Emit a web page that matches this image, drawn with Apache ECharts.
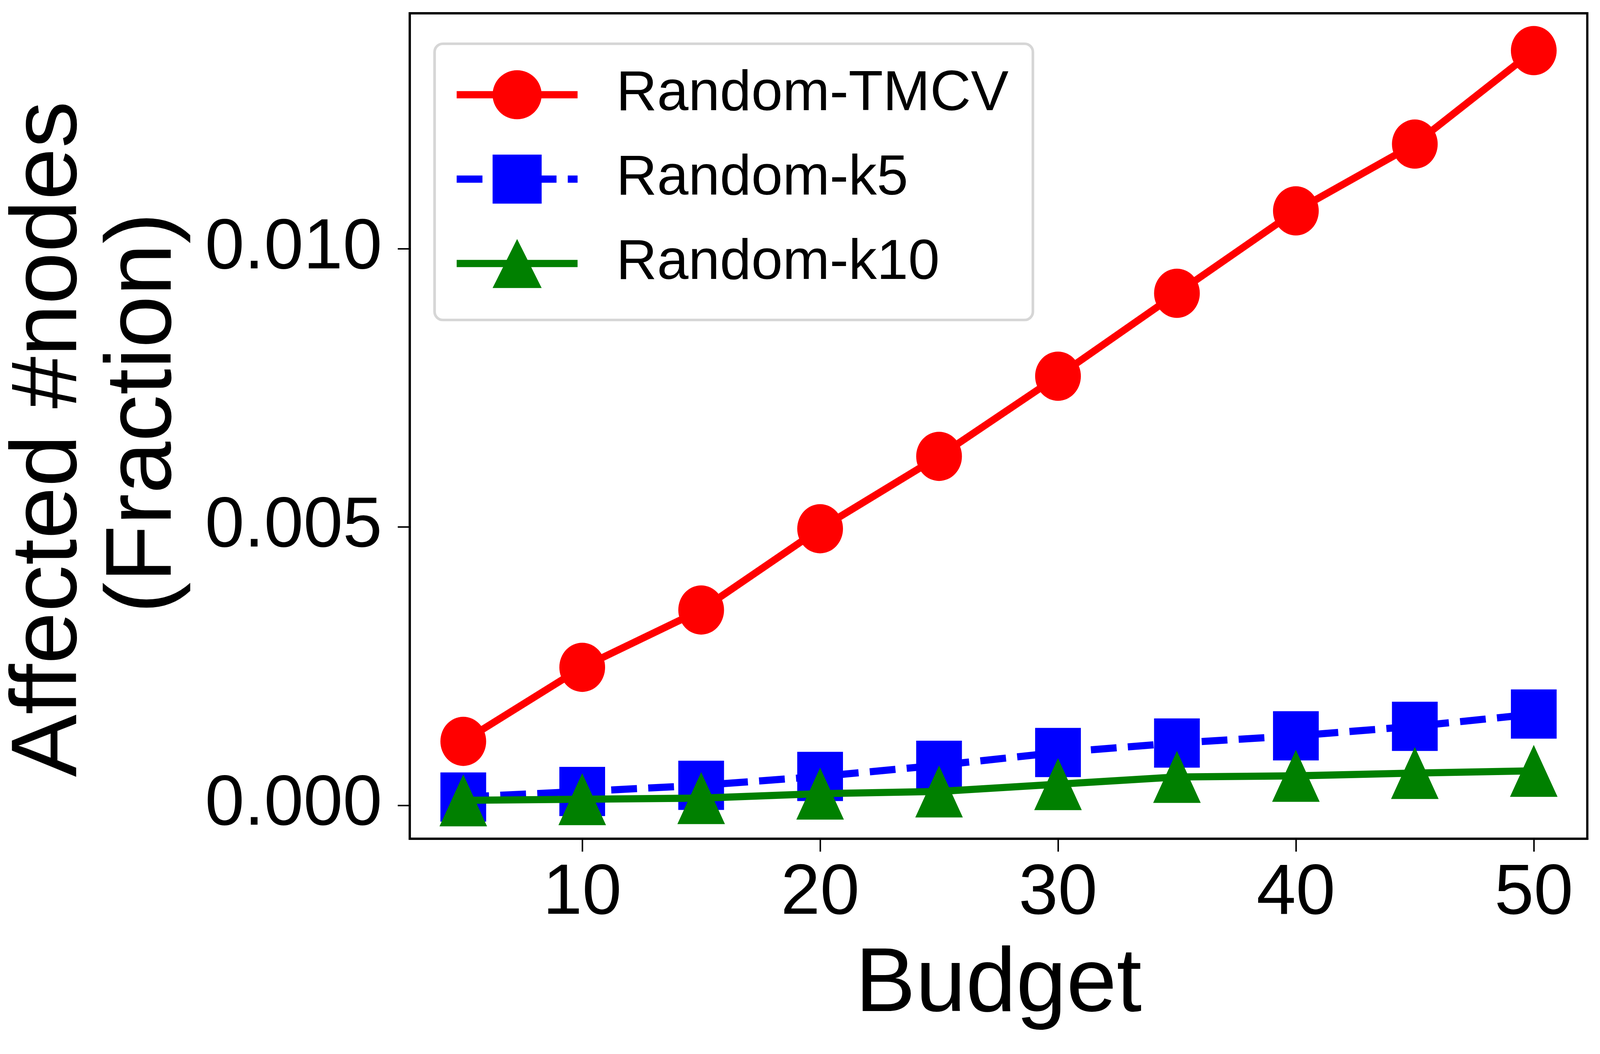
<!DOCTYPE html>
<html>
<head>
<meta charset="utf-8">
<script src="https://cdn.jsdelivr.net/npm/echarts@6/dist/echarts.min.js"></script>
<style>
  html, body { margin: 0; padding: 0; background: #fff; overflow: hidden; }
  #chart { width: 100vw; height: 100vh; }
</style>
</head>
<body>
<div id="chart"></div>
<script>
var budgets = [5, 10, 15, 20, 25, 30, 35, 40, 45, 50];
var tmcv = [0.00115, 0.00248, 0.00351, 0.00497, 0.00627, 0.00771, 0.00920, 0.01068, 0.01188, 0.01356];
var k5 = [0.00015, 0.00025, 0.00036, 0.00052, 0.00072, 0.00095, 0.00112, 0.00125, 0.00142, 0.00164];
var k10 = [0.00009, 0.00011, 0.00013, 0.00021, 0.00025, 0.00038, 0.00051, 0.00053, 0.00058, 0.00062];

var xTicks = [10, 20, 30, 40, 50];
var yTicks = [0, 0.005, 0.010];

var FONT = '"Liberation Sans", Arial, Helvetica, sans-serif';

function pairs(ys) {
  return budgets.map(function (b, i) { return [b, ys[i]]; });
}

var myChart = echarts.init(document.getElementById('chart'));

// sizes were measured on the 4407x2698 reference; scale them to the real window
var sx = myChart.getWidth() / 4407;
var sy = myChart.getHeight() / 2698;
var sf = Math.sqrt(sx * sy);
function X(v) { return v * sx; }
function Y(v) { return v * sy; }
function F(v) { return v * sf; }

var option = {
  animation: false,
  backgroundColor: '#fff',
  textStyle: { fontFamily: FONT },
  grid: {
    left: X(1116), right: X(35), top: Y(34), bottom: Y(551),
    show: true, borderColor: '#000', borderWidth: F(6), backgroundColor: 'transparent'
  },
  legend: {
    orient: 'vertical',
    left: X(1197), top: Y(112),
    padding: [Y(58), X(67), Y(72), X(51)],
    itemWidth: X(333), itemHeight: Y(157),
    itemGap: Y(71),
    backgroundColor: '#fff',
    borderColor: '#d6d6d6', borderWidth: F(7), borderRadius: F(22),
    lineStyle: { width: F(19) },
    textStyle: { fontSize: F(150), color: '#000', fontFamily: FONT, padding: [0, 0, 0, X(101)] },
    data: ['Random-TMCV', 'Random-k5', 'Random-k10']
  },
  xAxis: {
    type: 'value',
    min: 2.75, max: 52.25,
    name: 'Budget',
    nameLocation: 'middle',
    nameGap: Y(262),
    nameTextStyle: { fontSize: F(240), color: '#000', fontFamily: FONT },
    axisLine: { show: true, onZero: false, lineStyle: { color: '#000', width: F(6) } },
    axisTick: { show: true, length: Y(33), lineStyle: { color: '#000', width: F(4) }, customValues: xTicks },
    axisLabel: { fontSize: F(188), color: '#000', margin: Y(52), fontFamily: FONT, customValues: xTicks },
    splitLine: { show: false }
  },
  yAxis: {
    type: 'value',
    min: -0.0006, max: 0.01423,
    name: 'Affected #nodes \n (Fraction)',
    nameLocation: 'middle',
    nameGap: X(600),
    nameTextStyle: { fontSize: Y(240), lineHeight: X(260), color: '#000', fontFamily: FONT },
    axisLine: { show: true, onZero: false, lineStyle: { color: '#000', width: F(6) } },
    axisTick: { show: true, length: X(33), lineStyle: { color: '#000', width: F(4) }, customValues: yTicks },
    axisLabel: {
      fontSize: F(188), color: '#000', margin: X(76), fontFamily: FONT, customValues: yTicks,
      formatter: function (v) { return v.toFixed(3); }
    },
    splitLine: { show: false }
  },
  series: [
    {
      name: 'Random-TMCV',
      type: 'line',
      z: 2,
      data: pairs(tmcv),
      symbol: 'circle', symbolSize: [X(126), Y(126)],
      lineStyle: { color: '#ff0000', width: F(19) },
      itemStyle: { color: '#ff0000' }
    },
    {
      name: 'Random-k5',
      type: 'line',
      z: 3,
      data: pairs(k5),
      symbol: 'rect', symbolSize: [X(126), Y(126)],
      lineStyle: { color: '#0000ff', width: F(19), type: [X(71), X(31)] },
      itemStyle: { color: '#0000ff' }
    },
    {
      name: 'Random-k10',
      type: 'line',
      z: 4,
      data: pairs(k10),
      symbol: 'triangle', symbolSize: [X(131), Y(133)],
      lineStyle: { color: '#008000', width: F(19) },
      itemStyle: { color: '#008000' }
    }
  ]
};

myChart.setOption(option);
</script>
</body>
</html>
